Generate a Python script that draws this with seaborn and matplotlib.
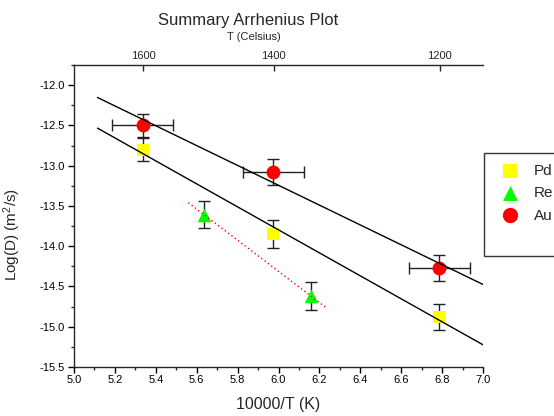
import numpy as np
import pandas as pd
import matplotlib
matplotlib.use("Agg")
import matplotlib.pyplot as plt
import seaborn as sns
from matplotlib.lines import Line2D
from matplotlib.ticker import MultipleLocator, NullLocator

# ---------------- data ----------------
pd_x = [5.336, 5.975, 6.786]
pd_y = [-12.80, -13.85, -14.88]
pd_yerr = [0.145, 0.17, 0.165]

re_x = [5.637, 6.159]
re_y = [-13.61, -14.62]
re_yerr = [0.17, 0.17]

au_x = [5.336, 5.975, 6.786]
au_y = [-12.50, -13.08, -14.27]
au_xerr = [0.148, 0.15, 0.149]
au_yerr = [0.145, 0.165, 0.165]

series_names = ["Pd", "Re", "Au"]
celsius_ticks = [1600, 1400, 1200]
fit_span_main = [5.115, 7.0]
fit_span_re = [5.559, 6.231]

# ---------------- style ----------------
sns.set_style("ticks")
plt.rcParams["font.family"] = ["Liberation Sans", "DejaVu Sans"]
plt.rcParams["mathtext.fontset"] = "custom"
plt.rcParams["mathtext.rm"] = "Liberation Sans"
plt.rcParams["mathtext.it"] = "Liberation Sans:italic"
plt.rcParams["axes.linewidth"] = 1.0

fig = plt.figure(figsize=(5.54, 4.16), dpi=100)
ax = fig.add_axes([74 / 554, 49 / 416, 409 / 554, 302 / 416])

err_kw = dict(fmt="none", ecolor="#222222", elinewidth=1.0, capsize=4.3, capthick=1.0, zorder=2)
ax.errorbar(pd_x, pd_y, yerr=pd_yerr, **err_kw)
ax.errorbar(re_x, re_y, yerr=re_yerr, **err_kw)
ax.errorbar(au_x, au_y, xerr=au_xerr, yerr=au_yerr, **err_kw)

df_pd = pd.DataFrame({"x": pd_x, "y": pd_y})
df_re = pd.DataFrame({"x": re_x, "y": re_y})
df_au = pd.DataFrame({"x": au_x, "y": au_y})

sns.scatterplot(data=df_pd, x="x", y="y", marker="s", s=85, color="#FFFF00",
                linewidth=0, ax=ax, label=series_names[0], zorder=3)
sns.scatterplot(data=df_re, x="x", y="y", marker="^", s=95, color="#00FF00",
                linewidth=0, ax=ax, label=series_names[1], zorder=3)
sns.scatterplot(data=df_au, x="x", y="y", marker="o", s=100, color="#FF0000",
                linewidth=0, ax=ax, label=series_names[2], zorder=3)

# linear fits
def fit_line(xs, ys, span):
    k, b = np.polyfit(xs, ys, 1)
    xx = np.array(span)
    return pd.DataFrame({"x": xx, "y": k * xx + b})

fa = fit_line(au_x, au_y, fit_span_main)
fp = fit_line(pd_x, pd_y, fit_span_main)
fr = fit_line(re_x, re_y, fit_span_re)
sns.lineplot(data=fa, x="x", y="y", color="black", lw=1.0, ax=ax, zorder=4, legend=False)
sns.lineplot(data=fp, x="x", y="y", color="black", lw=1.0, ax=ax, zorder=4, legend=False)
sns.lineplot(data=fr, x="x", y="y", color="#FF0000", lw=1.0, ls=(0, (1, 2)), ax=ax,
             zorder=4, legend=False)

ax.set_xlim(5.0, 7.0)
ax.set_ylim(-15.5, -11.75)
ax.xaxis.set_major_locator(MultipleLocator(0.2))
ax.xaxis.set_minor_locator(MultipleLocator(0.1))
ax.yaxis.set_major_locator(MultipleLocator(0.5))
ax.yaxis.set_minor_locator(MultipleLocator(0.25))
ax.xaxis.set_major_formatter(matplotlib.ticker.FormatStrFormatter("%.1f"))
ax.yaxis.set_major_formatter(matplotlib.ticker.FormatStrFormatter("%.1f"))
ax.tick_params(which="major", direction="out", length=4.5, width=1, labelsize=8, colors="black")
ax.tick_params(which="minor", direction="out", length=2.5, width=1)
ax.tick_params(axis="x", pad=1.5)
ax.tick_params(axis="y", pad=2)
ax.spines["right"].set_visible(False)
ax.spines["top"].set_visible(False)

ax.set_xlabel("10000/T (K)", fontsize=11.5)
ax.set_ylabel("Log(D) (m$^2$/s)", fontsize=11)
ax.xaxis.set_label_coords(0.5, -0.098)
ax.yaxis.set_label_coords(-0.125, 0.44)

# top Celsius axis
def k2c(x):
    x = np.asarray(x, dtype=float)
    with np.errstate(divide="ignore"):
        return 10000.0 / x - 273.15

def c2k(c):
    c = np.asarray(c, dtype=float)
    with np.errstate(divide="ignore"):
        return 10000.0 / (c + 273.15)

sec = ax.secondary_xaxis("top", functions=(k2c, c2k))
sec.set_xticks(celsius_ticks)
sec.xaxis.set_minor_locator(NullLocator())
sec.tick_params(direction="in", length=4, width=1, labelsize=8, pad=3)
sec.spines["top"].set_linewidth(1.0)

fig.text(248 / 554, 1 - 21 / 416, "Summary Arrhenius Plot", ha="center", va="center", fontsize=12)
fig.text(254 / 554, 1 - 37 / 416, "T (Celsius)", ha="center", va="center", fontsize=8)

# legend
handles, labels = ax.get_legend_handles_labels()
if ax.get_legend():
    ax.get_legend().remove()
handles = handles + [Line2D([], [], ls="", marker="")]
labels = labels + [" "]
leg = fig.legend(handles, labels, loc="upper left", bbox_to_anchor=(484 / 554, 1 - 153 / 416),
                 bbox_transform=fig.transFigure, borderaxespad=0, fontsize=11,
                 frameon=True, fancybox=False, framealpha=1, edgecolor="#333333",
                 borderpad=0.7, labelspacing=0.55, handlelength=2.05, handletextpad=0.5,
                 markerscale=1.1)
leg.get_frame().set_linewidth(1.0)

fig.savefig("out.png", dpi=100)
